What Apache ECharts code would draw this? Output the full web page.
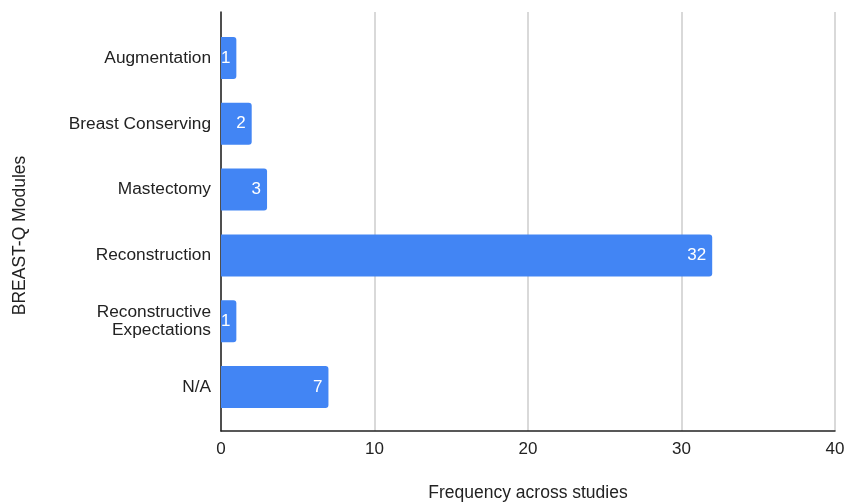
<!DOCTYPE html>
<html>
<head>
<meta charset="utf-8">
<script src="https://cdn.jsdelivr.net/npm/echarts@6/dist/echarts.min.js"></script>
<style>
  html, body { margin: 0; padding: 0; background: #fff; }
  #chart { width: 845px; height: 502px; }
</style>
</head>
<body>
<div id="chart"></div>
<script>
// BREAST-Q modules and how often each was used across studies
const modules = ['Augmentation', 'Breast Conserving', 'Mastectomy', 'Reconstruction', 'Reconstructive\nExpectations', 'N/A'];
const frequency = [1, 2, 3, 32, 1, 7];
const xTicks = { min: 0, max: 40, interval: 10 };

const FONT = '"Liberation Sans", Arial, Helvetica, sans-serif';
const chart = echarts.init(document.getElementById('chart'));

chart.setOption({
  animation: false,
  textStyle: { fontFamily: FONT },
  grid: [
    // frame: gridlines, axis lines and tick labels
    { left: 221, right: 10, top: 12, bottom: 71, outerBoundsMode: 'none', containLabel: false },
    // bars and category labels (inset from the frame)
    { left: 221, right: 10, top: 25, bottom: 82, outerBoundsMode: 'none', containLabel: false }
  ],
  xAxis: [
    {
      gridIndex: 0, type: 'value', min: xTicks.min, max: xTicks.max, interval: xTicks.interval,
      name: 'Frequency across studies', nameLocation: 'middle', nameGap: 53,
      nameTextStyle: { fontSize: 17.5, color: '#222' },
      axisLine: { show: true, onZero: false, lineStyle: { color: '#222', width: 1.5 } },
      axisTick: { show: false },
      axisLabel: { fontSize: 17, color: '#222', margin: 10 },
      splitLine: { show: true, lineStyle: { color: '#ccc', width: 1.5 } }
    },
    {
      gridIndex: 1, type: 'value', min: xTicks.min, max: xTicks.max, show: false
    }
  ],
  yAxis: [
    {
      gridIndex: 0, type: 'value', min: 0, max: 1,
      name: 'BREAST-Q Modules', nameLocation: 'middle', nameGap: 192,
      // title sits a little below the frame's middle
      nameTextStyle: { fontSize: 17.5, color: '#222', padding: [0, 28, 0, 0] },
      axisLine: { show: true, onZero: false, lineStyle: { color: '#222', width: 1.5 } },
      axisTick: { show: false }, axisLabel: { show: false }, splitLine: { show: false }
    },
    {
      gridIndex: 1, type: 'category', data: modules, inverse: true,
      axisLine: { show: false }, axisTick: { show: false },
      axisLabel: { fontSize: 17.3, color: '#222', margin: 10, lineHeight: 18, align: 'right' }
    }
  ],
  series: [{
    type: 'bar',
    xAxisIndex: 1, yAxisIndex: 1,
    data: frequency,
    barWidth: 42,
    itemStyle: { color: '#4285F4', borderRadius: [0, 3, 3, 0] },
    label: {
      show: true, position: 'insideRight', distance: 6,
      color: '#fff', fontSize: 17, fontFamily: FONT
    }
  }]
});
</script>
</body>
</html>
